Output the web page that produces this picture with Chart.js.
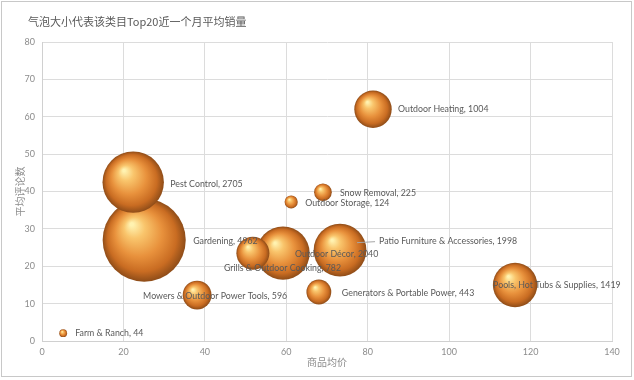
<!DOCTYPE html>
<html>
<head>
<meta charset="utf-8">
<script src="https://cdn.jsdelivr.net/npm/chart.js@4/dist/chart.umd.min.js"></script>
<style>
  html, body { margin: 0; padding: 0; background: #fff; }
  #wrap { position: relative; width: 634px; height: 380px; }
  #title { position: absolute; left: 28px; top: 13px; font: 11px "Noto Sans CJK SC", sans-serif; color: #595959; white-space: nowrap; }
  canvas { position: absolute; left: 0; top: 0; }
</style>
</head>
<body>
<div id="wrap">
  <canvas id="c" width="634" height="380"></canvas>
  <div id="title">气泡大小代表该类目Top20近一个月平均销量</div>
</div>
<script>
// ---- data ----
const categories = ["Gardening", "Pest Control", "Outdoor Décor", "Grills & Outdoor Cooking",
  "Patio Furniture & Accessories", "Pools, Hot Tubs & Supplies", "Outdoor Heating",
  "Mowers & Outdoor Power Tools", "Generators & Portable Power", "Snow Removal",
  "Outdoor Storage", "Farm & Ranch"];
const avgPrice   = [25.1, 22.4, 59.2, 51.8, 73.2, 116.2, 81.3, 38.1, 68.0, 69.0, 61.2, 5.2];
const avgReviews = [27.0, 42.5, 23.5, 23.5, 24.3, 15.0, 62.0, 12.3, 13.1, 39.8, 37.2, 2.1];
const monthlySales = [4962, 2705, 2040, 782, 1998, 1419, 1004, 596, 443, 225, 124, 44];
const xTicks = [0, 20, 40, 60, 80, 100, 120, 140];
const yTicks = [0, 10, 20, 30, 40, 50, 60, 70, 80];

// label placement (pixels relative to bubble centre) — style only
const labelOffsets = [[49,1],[37,2],[12,1],[-29,15],[39,-9],[-22,0],[25,0],[-54,1],[23,1],[17,1],[14,1],[12,0]];

const SCALE_K = 0.59;
const points = categories.map((c, i) => ({ x: avgPrice[i], y: avgReviews[i], r: Math.sqrt(monthlySales[i]) * SCALE_K }));

function sphere(ctx, px, py, r) {
  const g = ctx.createRadialGradient(px - r * 0.3, py - r * 0.38, Math.max(r * 0.04, 0.1), px, py, r);
  g.addColorStop(0, '#fff2b0');
  g.addColorStop(0.22, '#f9c56c');
  g.addColorStop(0.55, '#e8913c');
  g.addColorStop(0.82, '#c96c22');
  g.addColorStop(1, '#8e4c18');
  return g;
}

const spherePlugin = {
  id: 'sphereFill',
  beforeDatasetsDraw(chart) {
    const meta = chart.getDatasetMeta(0);
    meta.data.forEach(el => {
      const r = el.options.radius;
      if (isFinite(el.x) && isFinite(el.y) && isFinite(r) && r > 0) {
        el.options.backgroundColor = sphere(chart.ctx, el.x, el.y, r);
      }
    });
  }
};

const labelPlugin = {
  id: 'bubbleLabels',
  afterDatasetsDraw(chart) {
    const ctx = chart.ctx;
    const meta = chart.getDatasetMeta(0);
    ctx.save();
    ctx.font = '8.8px Lato, "Open Sans", sans-serif';
    ctx.fillStyle = '#595959';
    ctx.textBaseline = 'middle';
    ctx.textAlign = 'left';
    meta.data.forEach((el, i) => {
      const [dx, dy] = labelOffsets[i];
      const tx = el.x + dx, ty = el.y + dy;
      if (categories[i].startsWith('Patio')) {
        ctx.strokeStyle = '#a6a6a6'; ctx.lineWidth = 1;
        ctx.beginPath(); ctx.moveTo(tx - 4, ty + 0.5); ctx.lineTo(el.x + 17, ty + 1.5); ctx.stroke();
      }
      ctx.fillText(categories[i] + ', ' + monthlySales[i], tx, ty);
    });
    ctx.restore();
  }
};

const framePlugin = {
  id: 'frame',
  beforeDraw(chart) {
    const ctx = chart.ctx;
    ctx.save();
    ctx.fillStyle = '#fff';
    ctx.fillRect(0, 0, chart.width, chart.height);
    ctx.strokeStyle = '#c8c8c8';
    ctx.lineWidth = 1;
    ctx.strokeRect(1.5, 1.5, 630, 375);
    ctx.restore();
  }
};

new Chart(document.getElementById('c'), {
  type: 'bubble',
  data: {
    datasets: [{
      label: '月平均销量',
      data: points,
      backgroundColor: '#e8933f',
      borderWidth: 0,
      hoverBorderWidth: 0
    }]
  },
  options: {
    responsive: false,
    devicePixelRatio: 1,
    animation: false,
    layout: { autoPadding: false, padding: { left: 0, top: 42, right: 22, bottom: 0 } },
    plugins: { legend: { display: false }, tooltip: { enabled: false }, title: { display: false } },
    scales: {
      x: {
        type: 'linear', min: 0, max: 140,
        afterBuildTicks: s => { s.ticks = xTicks.map(v => ({ value: v })); },
        afterFit: s => { s.height = 39; },
        grid: { color: '#dcdcdc', drawTicks: false },
        border: { color: '#d0d0d0' },
        ticks: { color: '#8c8c8c', font: { size: 9, family: 'Lato, sans-serif' }, padding: 6, maxRotation: 0 },
        title: { display: true, text: '商品均价', color: '#8c8c8c', font: { size: 10, family: '"Noto Sans CJK SC", sans-serif' }, padding: { top: 0, bottom: 12 } }
      },
      y: {
        type: 'linear', min: 0, max: 80,
        afterBuildTicks: s => { s.ticks = yTicks.map(v => ({ value: v })); },
        afterFit: s => { s.width = 42; },
        grid: { color: '#dcdcdc', drawTicks: false },
        border: { color: '#d0d0d0' },
        ticks: { color: '#8c8c8c', font: { size: 9, family: 'Lato, sans-serif' }, padding: 7 },
        title: { display: true, text: '平均评论数', color: '#8c8c8c', font: { size: 10, family: '"Noto Sans CJK SC", sans-serif' }, padding: { top: 14, bottom: 0 } }
      }
    }
  },
  plugins: [framePlugin, spherePlugin, labelPlugin]
});
</script>
</body>
</html>
